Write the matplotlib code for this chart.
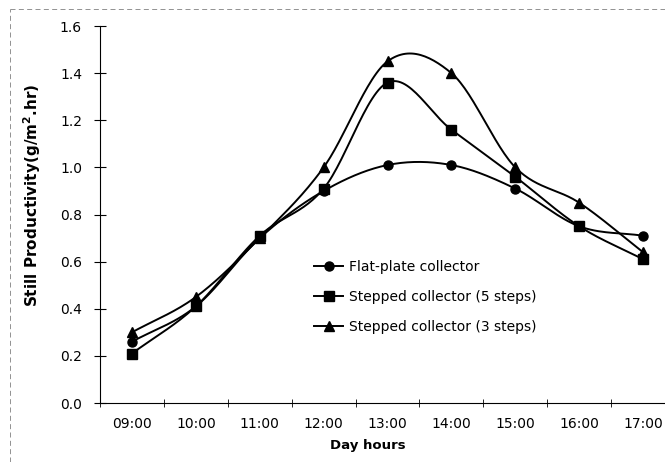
import numpy as np
import matplotlib
matplotlib.use("Agg")
import matplotlib.pyplot as plt
from matplotlib.lines import Line2D

plt.rcParams['font.family'] = ['DejaVu Sans']

hours = ["09:00", "10:00", "11:00", "12:00", "13:00", "14:00", "15:00", "16:00", "17:00"]
flat_plate = [0.26, 0.41, 0.70, 0.90, 1.01, 1.01, 0.91, 0.75, 0.71]
stepped_5 = [0.21, 0.41, 0.71, 0.91, 1.36, 1.16, 0.96, 0.75, 0.61]
stepped_3 = [0.30, 0.45, 0.70, 1.00, 1.45, 1.40, 1.00, 0.85, 0.64]


def smooth(x, y, n=30):
    # catmull-rom, roughly what excel does for smoothed lines
    x = np.asarray(x, float)
    y = np.asarray(y, float)
    px = np.concatenate([[2 * x[0] - x[1]], x, [2 * x[-1] - x[-2]]])
    py = np.concatenate([[2 * y[0] - y[1]], y, [2 * y[-1] - y[-2]]])
    t = np.linspace(0, 1, n)
    xs, ys = [], []
    for i in range(1, len(px) - 2):
        for p, out in ((px, xs), (py, ys)):
            p0, p1, p2, p3 = p[i - 1], p[i], p[i + 1], p[i + 2]
            out.extend(0.5 * ((2 * p1) + (-p0 + p2) * t
                              + (2 * p0 - 5 * p1 + 4 * p2 - p3) * t ** 2
                              + (-p0 + 3 * p1 - 3 * p2 + p3) * t ** 3))
    return np.array(xs), np.array(ys)


fig = plt.figure(figsize=(6.65, 4.62), dpi=100)
# axis runs slightly past the right edge, like the scan
ax = fig.add_axes([0.1504, 0.1277, 0.8647, 0.816])

x = np.arange(len(hours))
series = [
    (flat_plate, "o", "Flat-plate collector"),
    (stepped_5, "s", "Stepped collector (5 steps)"),
    (stepped_3, "^", "Stepped collector (3 steps)"),
]
handles = []
for vals, mk, lab in series:
    sx, sy = smooth(x, vals)
    ax.plot(sx, sy, color="black", lw=1.4, clip_on=False)
    ax.plot(x, vals, ls="none", marker=mk, color="black", ms=6.5, clip_on=False)
    handles.append(Line2D([], [], color="black", lw=1.4, marker=mk, ms=6.5, label=lab))

ax.set_xlim(-0.5, len(hours) - 0.5)
ax.set_ylim(0, 1.6)
yt = np.arange(0, 1.61, 0.2)
ax.set_yticks(yt)
ax.set_yticklabels([f"{v:.1f}" for v in yt], fontsize=10)
ax.set_xticks(x)
ax.set_xticklabels(hours, fontsize=10)
ax.set_xticks(np.arange(-0.5, len(hours)), minor=True)
ax.tick_params(axis="x", which="major", length=0, pad=10)
ax.tick_params(axis="x", which="minor", direction="inout", length=6)
ax.tick_params(axis="y", direction="inout", length=8, pad=9)

for s in ("top", "right"):
    ax.spines[s].set_visible(False)

ax.set_xlabel("Day hours", fontsize=9.5, fontweight="bold")
ax.xaxis.set_label_coords(0.465, -0.095)
ax.set_ylabel("Still Productivity(g/m$^\\mathbf{2}$.hr)", fontsize=11, fontweight="bold")
ax.yaxis.set_label_coords(-0.1, 0.55)

ax.legend(handles=handles, frameon=False, loc="upper left", bbox_to_anchor=(0.372, 0.38),
          fontsize=10, handlelength=2.1, handletextpad=0.4, labelspacing=1.15,
          borderpad=0, borderaxespad=0)

# faint dashed page border
fig.add_artist(Line2D([0.015, 0.015], [0.0, 0.98], transform=fig.transFigure,
                      color="0.5", lw=0.6, ls=(0, (6, 4))))
fig.add_artist(Line2D([0.015, 1.0], [0.98, 0.98], transform=fig.transFigure,
                      color="0.5", lw=0.6, ls=(0, (6, 4))))

fig.savefig("out.png", dpi=100)
